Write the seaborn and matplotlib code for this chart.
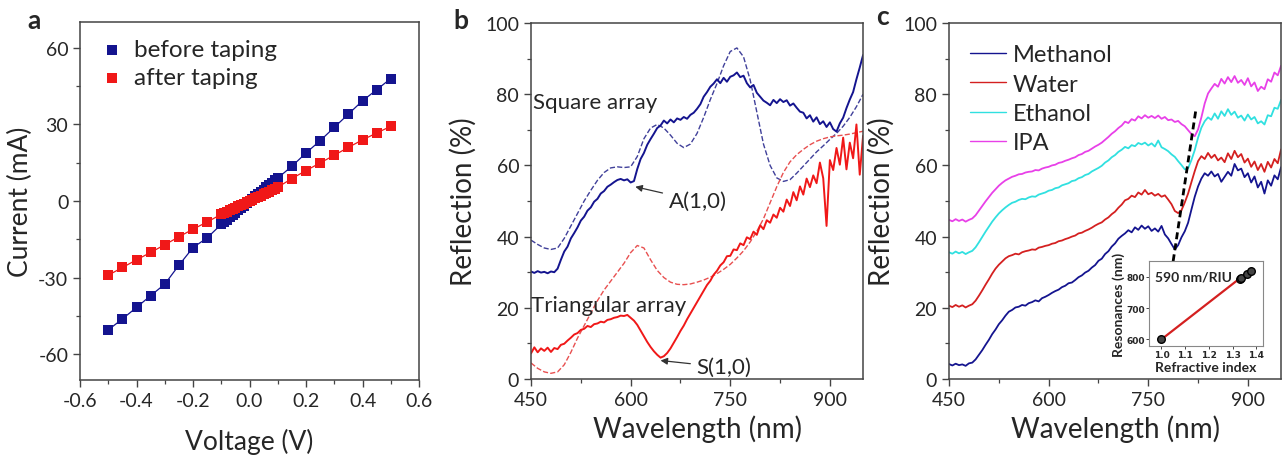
import numpy as np
import matplotlib
matplotlib.use("Agg")
import matplotlib.pyplot as plt
import seaborn as sns

sns.set_style("ticks")
plt.rcParams['font.family'] = ['Lato', 'DejaVu Sans']
plt.rcParams['axes.unicode_minus'] = False

# ---- panel a : I-V data ----
v_before = [-0.5, -0.45, -0.4, -0.35, -0.3, -0.25, -0.2, -0.15,
            -0.1, -0.09, -0.08, -0.07, -0.06, -0.05, -0.04, -0.03, -0.02, -0.01, 0.0,
            0.01, 0.02, 0.03, 0.04, 0.05, 0.06, 0.07, 0.08, 0.09, 0.1,
            0.15, 0.2, 0.25, 0.3, 0.35, 0.4, 0.45, 0.5]
i_before = [-50.4, -46.1, -41.6, -37.0, -32.5, -25.1, -18.2, -14.4,
            -9.1, -8.2, -7.3, -6.4, -5.5, -4.6, -3.7, -2.7, -1.8, -0.9, 0.0,
            0.9, 1.8, 2.7, 3.6, 4.5, 5.4, 6.3, 7.2, 8.1, 9.0,
            13.6, 18.8, 23.6, 28.8, 34.0, 39.2, 43.5, 47.9]
v_after = v_before
i_after = [-29.0, -26.0, -23.0, -20.1, -17.1, -14.0, -11.0, -8.2,
           -5.2, -4.7, -4.2, -3.7, -3.2, -2.6, -2.1, -1.6, -1.1, -0.5, 0.0,
           0.5, 1.1, 1.6, 2.1, 2.7, 3.2, 3.7, 4.3, 4.8, 5.4,
           8.8, 11.9, 14.9, 17.9, 21.0, 23.9, 26.6, 29.2]

# ---- panel b : reflection spectra ----
wl5 = list(range(450, 951, 5))
wl10 = list(range(450, 951, 10))

square_meas = [30.2, 29.8, 30.3, 29.9, 30.1, 29.7, 30.2, 30.0, 31.0, 33.5,
               35.8, 37.2, 39.5, 41.0, 42.6, 44.5, 45.6, 47.3, 48.2, 49.8,
               50.6, 52.1, 52.8, 54.0, 54.6, 55.3, 55.9, 56.2, 55.8, 56.1,
               55.2, 55.6, 59.0, 61.8, 63.5, 65.8, 67.4, 68.9, 70.5, 71.2,
               72.6, 71.8, 72.9, 72.1, 73.2, 72.8, 73.6, 73.1, 74.2, 74.8,
               75.9, 77.2, 79.3, 80.6, 82.1, 83.0, 84.2, 83.1, 84.6, 83.5,
               84.9, 85.3, 86.1, 84.8, 85.2, 83.1, 81.9, 82.6, 80.4, 79.3,
               78.2, 77.6, 76.9, 78.4, 77.5, 78.6, 77.8, 78.3, 76.8, 77.4,
               76.2, 75.1, 74.8, 73.2, 74.1, 72.3, 73.5, 71.6, 72.4, 70.8,
               72.1, 70.2, 69.5, 71.8, 73.4, 76.1, 78.5, 80.6, 84.2, 87.5, 91.0]
square_sim = [39.0, 37.8, 36.8, 36.4, 36.8, 39.5, 43.0, 46.5, 50.0, 53.0,
              55.8, 58.0, 59.3, 59.6, 59.4, 59.6, 62.5, 67.5, 70.5, 71.5,
              70.5, 68.5, 66.2, 65.0, 66.0, 69.0, 73.5, 78.5, 83.0, 88.0,
              92.0, 93.0, 90.5, 84.0, 75.0, 66.0, 60.0, 56.5, 55.5, 56.0,
              57.8, 59.8, 61.8, 63.8, 65.5, 67.3, 69.0, 71.0, 73.5, 76.5, 80.0]
tri_meas = [7.2, 8.9, 7.5, 8.6, 7.9, 8.8, 7.6, 8.7, 8.4, 9.6,
            9.9, 10.8, 11.6, 12.5, 12.9, 13.8, 14.1, 14.9, 14.6, 15.4,
            15.6, 16.1, 15.9, 16.6, 16.8, 17.2, 17.4, 17.8, 17.7, 18.0,
            17.2, 16.4, 15.2, 13.6, 12.0, 10.4, 9.0, 7.8, 6.8, 6.0,
            6.4, 7.3, 8.6, 10.2, 11.8, 13.5, 15.0, 16.8, 18.4, 20.0,
            21.6, 23.2, 24.8, 26.4, 27.6, 29.3, 30.4, 31.9, 32.8, 34.5,
            34.6, 36.4, 36.2, 38.1, 37.6, 39.8, 39.3, 41.4, 40.5, 43.2,
            42.1, 44.6, 43.9, 46.2, 45.3, 48.1, 47.0, 50.4, 48.6, 52.5,
            50.2, 54.1, 51.8, 56.3, 53.9, 57.2, 55.0, 60.8, 56.4, 43.0,
            61.5, 58.7, 64.9, 60.2, 67.8, 58.9, 66.4, 62.0, 71.5, 57.4, 68.3]
tri_sim = [4.5, 3.0, 2.0, 1.6, 2.0, 4.0, 7.5, 11.5, 15.0, 18.5,
           22.0, 25.0, 27.5, 30.0, 32.5, 35.5, 37.5, 36.8, 33.5, 30.5,
           28.5, 27.2, 26.6, 26.5, 26.7, 27.2, 27.8, 28.6, 29.6, 30.8,
           32.2, 34.0, 36.0, 38.5, 41.5, 45.0, 49.5, 54.0, 58.0, 61.0,
           63.0, 64.5, 65.8, 66.8, 67.5, 68.0, 68.3, 68.5, 68.8, 69.2, 69.6]

# ---- panel c : solvent spectra ----
methanol = [4.2, 3.8, 4.3, 3.9, 4.1, 3.7, 4.4, 4.6, 5.5, 6.8,
            8.1, 9.6, 11.0, 12.6, 13.9, 15.4, 16.5, 17.8, 18.9, 19.4,
            20.1, 20.3, 20.8, 20.6, 21.3, 21.6, 22.1, 21.8, 22.7, 23.1,
            23.6, 24.2, 24.7, 25.1, 25.8, 26.2, 26.9, 27.1, 27.8, 28.6,
            29.1, 29.9, 30.4, 31.3, 32.0, 33.2, 33.8, 35.1, 35.9, 37.2,
            38.1, 39.4, 40.2, 40.9, 41.8, 41.2, 42.6, 41.9, 43.1, 42.2,
            42.9, 41.6, 42.3, 41.4, 43.0, 40.6, 39.5, 37.9, 36.4, 37.6,
            39.8, 41.5, 43.9, 47.6, 51.2, 54.1, 56.3, 57.8, 57.1, 58.3,
            56.9, 57.6, 55.4, 56.8, 58.2, 57.1, 60.4, 58.6, 59.1, 56.7,
            57.8, 55.2, 56.9, 53.8, 55.4, 52.1, 55.8, 54.3, 57.2, 56.1, 59.5]
water = [20.6, 20.2, 20.8, 20.3, 20.7, 20.1, 20.6, 21.0, 22.0, 23.4,
         24.9, 26.5, 28.0, 29.6, 31.0, 32.1, 33.0, 33.9, 34.5, 34.8,
         35.2, 35.0, 35.6, 35.9, 36.1, 36.4, 36.3, 36.9, 37.1, 37.4,
         37.6, 38.0, 38.2, 38.7, 38.9, 39.3, 39.6, 40.0, 40.3, 40.9,
         41.1, 41.6, 42.0, 42.5, 43.1, 43.6, 44.0, 44.8, 45.4, 46.3,
         47.0, 48.1, 49.0, 50.2, 50.6, 51.5, 51.1, 52.4, 51.8, 53.1,
         51.9, 52.3, 51.5, 52.0, 51.2, 51.6, 50.4, 49.1, 47.2, 46.6,
         47.4, 49.6, 52.1, 55.3, 58.4, 61.2, 62.6, 61.8, 63.5, 62.1,
         63.0, 61.4, 62.2, 60.9, 63.4, 61.8, 64.1, 62.3, 63.2, 60.8,
         61.9, 59.6, 61.1, 58.7, 60.4, 58.2, 61.0, 59.4, 61.8, 60.6, 64.5]
ethanol = [35.6, 35.2, 35.8, 35.3, 35.7, 35.1, 35.6, 36.0, 37.0, 38.4,
           39.9, 41.4, 42.8, 44.2, 45.4, 46.5, 47.4, 48.2, 48.9, 49.5,
           49.8, 50.3, 50.6, 50.5, 51.0, 51.3, 51.2, 51.8, 52.1, 52.4,
           52.9, 53.1, 53.6, 53.8, 54.4, 54.7, 55.0, 55.6, 55.8, 56.4,
           56.7, 57.3, 57.6, 58.3, 58.8, 59.3, 59.9, 60.8, 61.4, 62.3,
           62.9, 63.8, 64.4, 65.2, 64.8, 65.7, 65.4, 66.3, 65.9, 66.4,
           65.6, 66.2, 65.3, 67.0, 65.1, 64.6, 64.0, 63.1, 62.4, 61.2,
           60.1, 58.9, 59.2, 61.5, 64.3, 67.8, 70.6, 72.4, 73.5, 72.8,
           74.6, 73.1, 75.2, 73.9, 75.8, 74.2, 75.1, 73.4, 74.0, 72.6,
           74.3, 72.9, 73.6, 71.8, 72.4, 71.5, 74.1, 73.8, 76.2, 75.9, 78.4]
ipa = [44.7, 44.3, 44.9, 44.4, 44.8, 44.2, 44.7, 45.1, 46.0, 47.3,
       48.6, 49.9, 51.1, 52.3, 53.3, 54.3, 55.1, 55.8, 56.3, 56.8,
       57.1, 57.5, 57.6, 58.0, 58.2, 58.3, 58.7, 58.6, 59.1, 59.4,
       59.6, 60.0, 60.2, 60.7, 60.9, 61.3, 61.6, 62.0, 62.3, 62.9,
       63.2, 63.8, 64.1, 64.7, 65.3, 65.8, 66.4, 67.2, 68.0, 68.9,
       69.6, 70.5, 71.2, 72.3, 71.9, 73.0, 72.6, 73.8, 73.2, 74.1,
       73.4, 73.9, 73.3, 74.0, 73.1, 73.6, 72.7, 72.9, 72.2, 72.5,
       71.6, 71.0, 69.9, 68.8, 68.2, 70.1, 73.5, 77.4, 80.2, 81.6,
       82.9, 82.1, 84.3, 83.0, 84.8, 83.4, 85.1, 83.2, 84.0, 82.6,
       84.5, 82.2, 83.3, 80.9, 82.1, 81.4, 84.2, 83.5, 86.1, 85.3, 88.0]
guide_wl = [785, 822]
guide_r = [30, 76]

# inset: resonance vs refractive index
ref_index = [1.0, 1.329, 1.333, 1.361, 1.377]
resonance = [600, 792, 795, 808, 818]
fit_n = [1.0, 1.38]
fit_res = [600, 824]

navy = '#14148f'
red = '#f01818'

fig = plt.figure(figsize=(12.83, 4.6), dpi=100)
ax_a = fig.add_axes([0.0624, 0.1717, 0.2642, 0.7783])
ax_b = fig.add_axes([0.4139, 0.1739, 0.2588, 0.7739])
ax_c = fig.add_axes([0.7397, 0.1739, 0.2588, 0.7739])
ax_in = fig.add_axes([0.8956, 0.2457, 0.0889, 0.1848])

tick_fs = 14
lab_fs = 20

# panel a
sns.lineplot(x=v_before, y=i_before, ax=ax_a, color=navy, lw=0.9, sort=False, estimator=None)
sns.lineplot(x=v_after, y=i_after, ax=ax_a, color=red, lw=0.9, sort=False, estimator=None)
sns.scatterplot(x=v_before, y=i_before, ax=ax_a, color=navy, marker='s', s=42,
                linewidth=0, label='before taping', zorder=3)
sns.scatterplot(x=v_after, y=i_after, ax=ax_a, color=red, marker='s', s=42,
                linewidth=0, label='after taping', zorder=3)
ax_a.set_xlim(-0.6, 0.6)
ax_a.set_ylim(-70, 70)
ax_a.set_xticks([-0.6, -0.4, -0.2, 0.0, 0.2, 0.4, 0.6])
ax_a.set_xticklabels(['-0.6', '-0.4', '-0.2', '0.0', '0.2', '0.4', '0.6'])
ax_a.set_xticks([-0.5, -0.3, -0.1, 0.1, 0.3, 0.5], minor=True)
ax_a.set_yticks([-60, -30, 0, 30, 60])
ax_a.set_yticks([-45, -15, 15, 45], minor=True)
ax_a.set_xlabel('Voltage (V)', fontsize=19, labelpad=14)
ax_a.set_ylabel('Current (mA)', fontsize=19, labelpad=4)
ax_a.legend(loc='upper left', frameon=False, fontsize=17.5, handletextpad=0.3,
            markerscale=1.0, borderaxespad=0.3, labelspacing=0.3, handlelength=1.2)

# panel b
sns.lineplot(x=wl10, y=square_sim, ax=ax_b, color='#40409a', lw=1.0, ls='--', estimator=None)
sns.lineplot(x=wl10, y=tri_sim, ax=ax_b, color='#e85050', lw=1.0, ls='--', estimator=None)
sns.lineplot(x=wl5, y=square_meas, ax=ax_b, color=navy, lw=1.4, estimator=None)
sns.lineplot(x=wl5, y=tri_meas, ax=ax_b, color=red, lw=1.4, estimator=None)
ax_b.set_xlim(450, 950)
ax_b.set_ylim(0, 100)
ax_b.set_xticks([450, 600, 750, 900])
ax_b.set_xticks([525, 675, 825], minor=True)
ax_b.set_yticks([0, 20, 40, 60, 80, 100])
ax_b.set_yticks([10, 30, 50, 70, 90], minor=True)
ax_b.set_xlabel('Wavelength (nm)', fontsize=lab_fs, labelpad=5)
ax_b.set_ylabel('Reflection (%)', fontsize=lab_fs, labelpad=6)
ax_b.text(453, 77.8, 'Square array', fontsize=16, va='center', ha='left')
ax_b.text(450, 20.8, 'Triangular array', fontsize=16, va='center', ha='left')
ax_b.annotate('A(1,0)', xy=(607, 54), xytext=(657, 50), fontsize=16, va='center', ha='left',
              arrowprops=dict(arrowstyle='-|>', color='#333333', lw=0.9, mutation_scale=10,
                              shrinkA=2, shrinkB=0))
ax_b.annotate('S(1,0)', xy=(645, 5.2), xytext=(699, 3.3), fontsize=16, va='center', ha='left',
              arrowprops=dict(arrowstyle='-|>', color='#333333', lw=0.9, mutation_scale=10,
                              shrinkA=2, shrinkB=0))

# panel c
solvents = [('Methanol', methanol, navy), ('Water', water, '#d42020'),
            ('Ethanol', ethanol, '#30e0e0'), ('IPA', ipa, '#e840e8')]
for name, vals, col in solvents:
    sns.lineplot(x=wl5, y=vals, ax=ax_c, color=col, lw=1.3, label=name, estimator=None)
sns.lineplot(x=guide_wl, y=guide_r, ax=ax_c, color='black', lw=2, ls=(0, (2.5, 1.5)), estimator=None)
ax_c.set_xlim(450, 950)
ax_c.set_ylim(0, 100)
ax_c.set_xticks([450, 600, 750, 900])
ax_c.set_xticks([525, 675, 825], minor=True)
ax_c.set_yticks([0, 20, 40, 60, 80, 100])
ax_c.set_yticks([10, 30, 50, 70, 90], minor=True)
ax_c.set_xlabel('Wavelength (nm)', fontsize=lab_fs, labelpad=5)
ax_c.set_ylabel('Reflection (%)', fontsize=lab_fs, labelpad=6)
leg = ax_c.legend(loc='upper left', frameon=False, fontsize=17, handlelength=1.5, handletextpad=0.3,
                  labelspacing=0.35, borderaxespad=0.5)
for h in leg.get_lines():
    h.set_linewidth(1.0)

# inset
sns.lineplot(x=fit_n, y=fit_res, ax=ax_in, color='#d42020', lw=1.6, estimator=None)
sns.scatterplot(x=ref_index, y=resonance, ax=ax_in, color='#444444', edgecolor='black',
                s=30, linewidth=1.0, zorder=3)
ax_in.set_xlim(0.948, 1.428)
ax_in.set_ylim(579, 850)
ax_in.set_xticks([1.0, 1.1, 1.2, 1.3, 1.4])
ax_in.set_xticklabels(['1.0', '1.1', '1.2', '1.3', '1.4'])
ax_in.set_yticks([600, 700, 800])
ax_in.tick_params(labelsize=6.5, length=2, width=0.6, pad=1)
for lab in ax_in.get_xticklabels() + ax_in.get_yticklabels():
    lab.set_fontweight('bold')
    lab.set_family('DejaVu Sans')
ax_in.set_xlabel('Refractive index', fontsize=10, fontweight='bold', labelpad=1)
ax_in.set_ylabel('Resonances (nm)', fontsize=10, fontweight='bold', labelpad=1)
ax_in.text(0.05, 0.82, '590 nm/RIU', transform=ax_in.transAxes, fontsize=10,
           fontweight='bold', va='center', ha='left')
for s in ax_in.spines.values():
    s.set_color('#888888')
    s.set_linewidth(0.8)

for ax in (ax_a, ax_b, ax_c):
    ax.tick_params(which='major', labelsize=tick_fs, length=5, width=1.0, direction='out', color='#444444')
    ax.tick_params(which='minor', length=3, width=0.9, direction='out', color='#444444')
    for s in ax.spines.values():
        s.set_visible(True)
        s.set_color('#444444')
        s.set_linewidth(1.1)

fig.text(0.021, 0.955, 'a', fontsize=19, fontweight='bold', va='center', ha='left')
fig.text(0.353, 0.955, 'b', fontsize=19, fontweight='bold', va='center', ha='left')
fig.text(0.683, 0.962, 'c', fontsize=19, fontweight='bold', va='center', ha='left')

fig.savefig('out.png', dpi=100)
